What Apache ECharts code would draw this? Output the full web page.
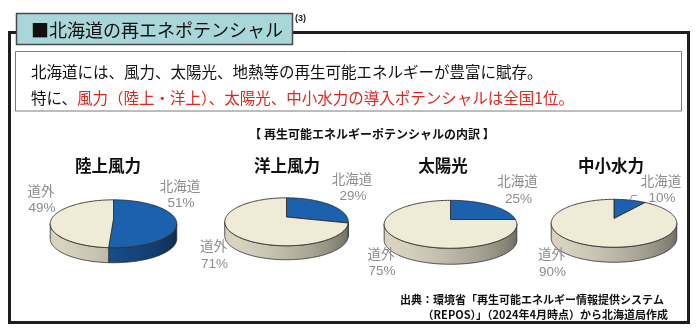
<!DOCTYPE html>
<html lang="ja">
<head>
<meta charset="utf-8">
<title>北海道の再エネポテンシャル</title>
<script src="https://cdn.jsdelivr.net/npm/echarts@6/dist/echarts.min.js"></script>
<style>
  html, body { margin: 0; padding: 0; background: #ffffff; }
  #chart { width: 698px; height: 336px; }
</style>
</head>
<body>
<div id="chart"></div>
<script>
// Share of national renewable-energy potential (%), Hokkaido vs. rest of Japan
const categories = ['陸上風力', '洋上風力', '太陽光', '中小水力'];
const sliceNames = ['北海道', '道外'];
const hokkaidoShare = [51, 29, 25, 10];
const outsideShare = [49, 71, 75, 90];

const JP = '"Noto Sans CJK JP", sans-serif';
const LABEL_FONT = '13.5px "Liberation Sans", "Noto Sans CJK JP", sans-serif';
const sliceColors = ['#1c61ad', '#f0ebd6'];
const PERSP = 0.2;     // foreshortening of the far half of each disc
const RY = 23;         // vertical radius of the tilted disc

// Geometry of each tilted pie and where its two labels sit (centre x, first-line y)
const pieLayout = [
  { cx: 113.5, cy: 219,   rx: 62,   drop: 15, titleX: 108, labels: [[180, 187], [41, 192]] },
  { cx: 286.5, cy: 217,   rx: 60.5, drop: 14, titleX: 287, labels: [[352, 180], [213.5, 247.5]] },
  { cx: 450.5, cy: 219.5, rx: 65,   drop: 16, titleX: 443, labels: [[517.5, 182.5], [381, 255]] },
  { cx: 614,   cy: 218.5, rx: 61.5, drop: 15, titleX: 611, labels: [[661, 182], [551.5, 255.5]] }
];

// Point on the disc edge at angle theta (clockwise from 12 o'clock), optionally dropped by the rim height
function project(L, theta, drop) {
  const X = Math.sin(theta), Z = Math.cos(theta);
  const w = 1 / (1 + PERSP * Z);
  return [L.cx + L.rx * X * w, L.cy - RY * Z * w + (drop || 0)];
}
function arcPoints(L, a0, a1, drop) {
  const n = Math.max(2, Math.ceil(Math.abs(a1 - a0) / (Math.PI / 120)));
  const pts = [];
  for (let i = 0; i <= n; i++) pts.push(project(L, a0 + (a1 - a0) * i / n, drop));
  return pts;
}
function shade(hex, f) {
  const n = parseInt(hex.slice(1), 16);
  const r = Math.round(((n >> 16) & 255) * f);
  const g = Math.round(((n >> 8) & 255) * f);
  const b = Math.round((n & 255) * f);
  return 'rgb(' + r + ',' + g + ',' + b + ')';
}
// Side lighting: brightest toward the lower left, darkest at the right edge
function rimLight(theta) {
  return 0.62 + 0.28 * Math.cos(theta - 235 * Math.PI / 180);
}

const TH_R = Math.acos(-PERSP);            // rightmost visible rim angle
const TH_L = 2 * Math.PI - TH_R;           // leftmost visible rim angle

function rimGradient(L, base) {
  const xl = project(L, TH_L)[0], xr = project(L, TH_R)[0];
  const stops = [];
  const n = 24;
  for (let i = 0; i <= n; i++) {
    const th = TH_L + (TH_R - TH_L) * i / n;
    const x = project(L, th)[0];
    stops.push({ offset: Math.min(1, Math.max(0, (x - xl) / (xr - xl))), color: shade(base, rimLight(th)) });
  }
  stops.sort((a, b) => a.offset - b.offset);
  return { type: 'linear', x: xl, y: 0, x2: xr, y2: 0, global: true, colorStops: stops };
}

function makeRenderItem(k) {
  const L = pieLayout[k];
  const values = [hokkaidoShare[k], outsideShare[k]];
  const total = values[0] + values[1];
  return function (params, api) {
    const i = params.dataIndex;
    const v = api.value(0);
    let before = 0;
    for (let j = 0; j < i; j++) before += values[j];
    const a0 = before / total * 2 * Math.PI;
    const a1 = (before + v) / total * 2 * Math.PI;
    const color = sliceColors[i];
    const children = [];

    // visible front side of the slice
    const s = Math.max(a0, TH_R), e = Math.min(a1, TH_L);
    if (e > s) {
      const top = arcPoints(L, s, e, 0);
      const bottom = arcPoints(L, e, s, L.drop);
      children.push({
        type: 'polygon',
        shape: { points: top.concat(bottom) },
        style: { fill: rimGradient(L, color), stroke: '#2e2e2e', lineWidth: 0.8 }
      });
    }

    // top face of the slice
    const face = [[L.cx, L.cy]].concat(arcPoints(L, a0, a1, 0));
    children.push({
      type: 'polygon',
      shape: { points: face },
      style: { fill: color, stroke: '#2e2e2e', lineWidth: 0.9 }
    });

    // label: name and percentage
    const lab = L.labels[i];
    const labStyle = { fill: '#8c8c8c', font: LABEL_FONT, align: 'center', verticalAlign: 'middle', textAlign: 'center', textVerticalAlign: 'middle' };
    children.push({ type: 'text', z2: 10, style: Object.assign({ text: sliceNames[i], x: lab[0], y: lab[1] }, labStyle) });
    children.push({ type: 'text', z2: 10, style: Object.assign({ text: v + '%', x: lab[0] + 1, y: lab[1] + 16.5 }, labStyle) });

    // short leader for a thin slice
    if (v < 15) {
      const p0 = project(L, (a0 + a1) / 2, 0);
      children.push({
        type: 'polyline',
        shape: { points: [p0, [p0[0] + 2, lab[1] + 13.5], [lab[0] - 24, lab[1] + 13.5]] },
        style: { stroke: '#9a9a9a', lineWidth: 1, fill: null }
      });
    }
    return { type: 'group', children: children };
  };
}

const series = categories.map((name, k) => ({
  type: 'custom',
  name: name,
  coordinateSystem: 'none',
  silent: true,
  animation: false,
  renderItem: makeRenderItem(k),
  data: [
    { name: sliceNames[0], value: hokkaidoShare[k] },
    { name: sliceNames[1], value: outsideShare[k] }
  ]
}));

const titles = categories.map((name, k) => ({
  type: 'text',
  style: {
    text: name, x: pieLayout[k].titleX, y: 166,
    font: 'bold 16.5px ' + JP, fill: '#111',
    align: 'center', verticalAlign: 'middle', textAlign: 'center', textVerticalAlign: 'middle'
  }
}));

const option = {
  backgroundColor: '#ffffff',
  animation: false,
  graphic: {
    elements: [
      // outer frame
      { type: 'rect', shape: { x: 9.5, y: 32.5, width: 679, height: 290 },
        style: { fill: '#ffffff', stroke: '#1e1e1e', lineWidth: 3 } },
      // heading tab
      { type: 'rect', shape: { x: 16.5, y: 13.5, width: 276, height: 31 },
        style: { fill: '#a9d6d8', stroke: '#4a4a4a', lineWidth: 1.5 } },
      { type: 'text', style: { text: '■北海道の再エネポテンシャル', x: 31, y: 30,
        font: '18px ' + JP, fill: '#111', verticalAlign: 'middle', textVerticalAlign: 'middle' } },
      { type: 'text', style: { text: '(3)', x: 295, y: 19,
        font: 'bold 9px "Liberation Sans", sans-serif', fill: '#222', verticalAlign: 'middle', textVerticalAlign: 'middle' } },
      // summary box
      { type: 'rect', shape: { x: 15.5, y: 51.5, width: 666, height: 59.5 },
        style: { fill: '#ffffff', stroke: '#7a7a7a', lineWidth: 1 } },
      { type: 'text', style: { text: '北海道には、風力、太陽光、地熱等の再生可能エネルギーが豊富に賦存。', x: 31, y: 72,
        font: '15.5px ' + JP, fill: '#111', verticalAlign: 'middle', textVerticalAlign: 'middle' } },
      { type: 'text', style: { text: '{k|特に、}{r|風力（陸上・洋上）、太陽光、中小水力の導入ポテンシャルは全国1位。}', x: 31, y: 98,
        font: '15.5px ' + JP, fill: '#111', verticalAlign: 'middle', textVerticalAlign: 'middle',
        rich: { k: { fill: '#111', font: '15.5px ' + JP }, r: { fill: '#e2261c', font: '15.5px ' + JP } } } },
      // breakdown heading
      { type: 'text', style: { text: '【 再生可能エネルギーポテンシャルの内訳 】', x: 372, y: 134,
        font: 'bold 12px ' + JP, fill: '#111', align: 'center', verticalAlign: 'middle', textAlign: 'center', textVerticalAlign: 'middle' } },
      // source note
      { type: 'text', style: { text: '出典：環境省「再生可能エネルギー情報提供システム', x: 664, y: 300,
        font: 'bold 11px ' + JP, fill: '#111', align: 'right', verticalAlign: 'middle', textAlign: 'right', textVerticalAlign: 'middle' } },
      { type: 'text', style: { text: '（REPOS）」（2024年4月時点）から北海道局作成', x: 668, y: 315,
        font: 'bold 11px ' + JP, fill: '#111', align: 'right', verticalAlign: 'middle', textAlign: 'right', textVerticalAlign: 'middle' } }
    ].concat(titles)
  },
  series: series
};

const chart = echarts.init(document.getElementById('chart'), null, { renderer: 'canvas' });
chart.setOption(option);
</script>
</body>
</html>
